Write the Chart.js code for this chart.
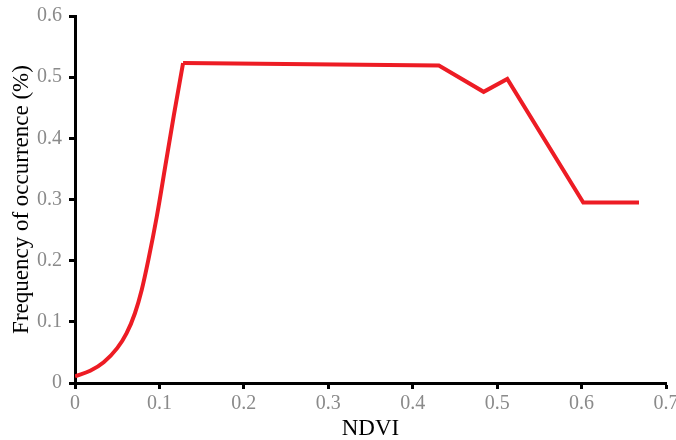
<!DOCTYPE html>
<html>
<head>
<meta charset="utf-8">
<script src="https://cdn.jsdelivr.net/npm/chart.js@4/dist/chart.umd.min.js"></script>
<style>
  html, body { margin: 0; padding: 0; background: #fff; }
  #wrap { width: 676px; height: 440px; }
</style>
</head>
<body>
<div id="wrap"><canvas id="myChart" width="676" height="440"></canvas></div>
<script>
// NDVI values and frequency of occurrence (%)
// rising (curved) part
const ndviRise = [0, 0.018, 0.034, 0.050, 0.061, 0.071, 0.079, 0.087, 0.097, 0.107, 0.117, 0.128];
const freqRise = [0.011, 0.020, 0.034, 0.057, 0.081, 0.114, 0.152, 0.202, 0.273, 0.355, 0.437, 0.523];
// straight-segment part
const ndviRest = [0.128, 0.431, 0.484, 0.512, 0.602, 0.668];
const freqRest = [0.523, 0.519, 0.476, 0.497, 0.295, 0.295];
const xTicks = [0, 0.1, 0.2, 0.3, 0.4, 0.5, 0.6, 0.7];
const yTicks = [0, 0.1, 0.2, 0.3, 0.4, 0.5, 0.6];

function init_chart()
{
    const rise = ndviRise.map((x, i) => ({x: x, y: freqRise[i]}));
    const rest = ndviRest.map((x, i) => ({x: x, y: freqRest[i]}));

    const serif = "'Liberation Serif', 'Times New Roman', serif";
    const tickFont = {family: serif, size: 20};
    const titleFont = {family: serif, size: 23, lineHeight: 1.0};
    const red = 'rgb(237, 28, 36)';

    const axisCommon = {
        border: {display: true, color: '#000', width: 3},
        grid: {drawOnChartArea: false, drawTicks: true, tickLength: 6, tickColor: '#000', tickWidth: 3}
    };

    const config = {
        type: 'line',
        data: {
            datasets: [{
                data: rise,
                borderColor: red,
                borderWidth: 4,
                pointRadius: 0,
                cubicInterpolationMode: 'monotone',
                borderJoinStyle: 'round',
                fill: false
            }, {
                data: rest,
                borderColor: red,
                borderWidth: 4,
                pointRadius: 0,
                tension: 0,
                fill: false
            }]
        },
        options: {
            responsive: false,
            animation: false,
            layout: {padding: {top: 16, right: 10, left: 0, bottom: 0}},
            plugins: {legend: {display: false}, tooltip: {enabled: false}},
            scales: {
                x: Object.assign({}, axisCommon, {
                    type: 'linear',
                    min: 0,
                    max: 0.7,
                    afterBuildTicks: s => { s.ticks = xTicks.map(v => ({value: v})); },
                    ticks: {
                        color: '#8a8a8a', font: tickFont, padding: 3, maxRotation: 0,
                        callback: v => String(+v.toFixed(1))
                    },
                    title: {display: true, text: 'NDVI', color: '#000', font: titleFont, padding: 0},
                    afterFit: s => { s.height = 57; s.paddingLeft = 0; s.paddingRight = 0; }
                }),
                y: Object.assign({}, axisCommon, {
                    type: 'linear',
                    min: 0,
                    max: 0.6,
                    afterBuildTicks: s => { s.ticks = yTicks.map(v => ({value: v})); },
                    ticks: {
                        color: '#8a8a8a', font: tickFont, padding: 7,
                        callback: v => String(+v.toFixed(1))
                    },
                    title: {display: true, text: 'Frequency of occurrence (%)', color: '#000', font: titleFont, padding: 10},
                    afterFit: s => { s.width = 75; s.paddingTop = 0; s.paddingBottom = 0; }
                })
            }
        }
    };

    new Chart(document.getElementById('myChart').getContext('2d'), config);
}

init_chart();
</script>
</body>
</html>
